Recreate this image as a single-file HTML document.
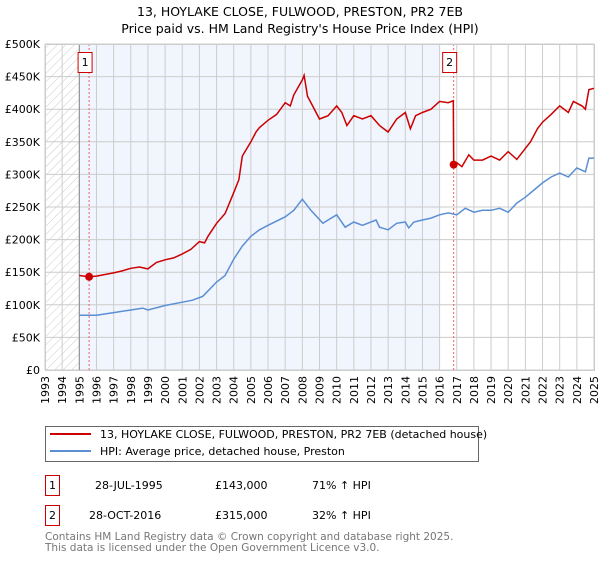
<!DOCTYPE html>
<html><head><meta charset="utf-8"><style>
body{margin:0;background:#fff;width:600px;height:560px;overflow:hidden;font-family:"DejaVu Sans","Liberation Sans",sans-serif;}
svg text{font-family:"DejaVu Sans","Liberation Sans",sans-serif;}
</style></head><body>
<svg id="chart" width="600" height="560" xmlns="http://www.w3.org/2000/svg">
<defs><pattern id="hatch" width="6" height="6" patternUnits="userSpaceOnUse" patternTransform="rotate(45)"><line x1="0" y1="0" x2="0" y2="6" stroke="#ccc" stroke-width="1"/></pattern></defs>
<text x="300" y="16" text-anchor="middle" font-size="12.5">13, HOYLAKE CLOSE, FULWOOD, PRESTON, PR2 7EB</text>
<text x="300" y="33" text-anchor="middle" font-size="12.5">Price paid vs. HM Land Registry's House Price Index (HPI)</text>
<g id="plot"></g>
<g>
<rect x="45.5" y="426.5" width="433" height="35" fill="#fff" stroke="#666"/>
<line x1="50" y1="434" x2="91" y2="434" stroke="#cc0000" stroke-width="2"/>
<text x="100" y="438" font-size="11">13, HOYLAKE CLOSE, FULWOOD, PRESTON, PR2 7EB (detached house)</text>
<line x1="50" y1="451" x2="91" y2="451" stroke="#5b8fd4" stroke-width="2"/>
<text x="100" y="455" font-size="11">HPI: Average price, detached house, Preston</text>
</g>
<g font-size="11">
<rect x="45.5" y="475.5" width="14" height="20" fill="#fff" stroke="#cc0000"/><text x="52.5" y="489" text-anchor="middle">1</text>
<text x="95" y="489">28-JUL-1995</text><text x="215" y="489">£143,000</text><text x="312" y="489">71% ↑ HPI</text>
<rect x="45.5" y="505.5" width="14" height="20" fill="#fff" stroke="#cc0000"/><text x="52.5" y="519" text-anchor="middle">2</text>
<text x="89" y="519">28-OCT-2016</text><text x="215" y="519">£315,000</text><text x="312" y="519">32% ↑ HPI</text>
</g>
<text x="45" y="540" font-size="10.5" fill="#777">Contains HM Land Registry data © Crown copyright and database right 2025.</text>
<text x="45" y="551" font-size="10.5" fill="#777">This data is licensed under the Open Government Licence v3.0.</text>
</svg>
<script>
const hpiYears=[1995,1996,1997,1998,1998.7,1999,2000,2001,2001.6,2002.2,2003,2003.5,2004,2004.5,2005,2005.5,2006,2007,2007.5,2008,2008.5,2009.2,2009.5,2010,2010.5,2011,2011.5,2012.3,2012.5,2013,2013.5,2014,2014.2,2014.5,2015,2015.5,2016,2016.5,2017,2017.5,2018,2018.5,2019,2019.5,2020,2020.5,2021,2021.5,2022,2022.5,2023,2023.5,2024,2024.5,2024.7,2025];
const hpiValues=[84,84,88,92,95,92,99,104,107,113,135,145,170,190,205,215,222,235,245,262,245,225,230,238,219,227,222,230,219,215,225,227,218,227,230,233,238,241,238,248,242,245,245,248,242,256,265,276,287,296,302,296,310,304,325,325];
const ppYears=[1995,1995.57,1996,1997,1997.5,1998,1998.5,1999,1999.5,2000,2000.5,2001,2001.5,2002,2002.3,2002.5,2003,2003.5,2004,2004.3,2004.5,2005,2005.3,2005.5,2006,2006.5,2007,2007.3,2007.5,2008,2008.1,2008.3,2008.6,2009,2009.5,2010,2010.3,2010.6,2011,2011.5,2012,2012.5,2013,2013.5,2014,2014.3,2014.6,2015,2015.5,2016,2016.5,2016.8,2016.82,2017,2017.3,2017.7,2018,2018.5,2019,2019.5,2020,2020.5,2021,2021.3,2021.7,2022,2022.5,2023,2023.5,2023.8,2024.3,2024.5,2024.7,2025];
const ppValues=[145,143,144,149,152,156,158,155,165,169,172,178,185,197,195,205,225,240,272,292,328,350,365,372,383,392,410,405,422,445,452,420,405,385,390,405,395,375,390,385,390,375,365,385,395,370,390,395,400,412,410,413,315,318,312,330,322,322,328,322,335,323,340,350,370,380,392,405,395,412,405,400,430,432];
const sales=[{n:"1",year:1995.57,value:143},{n:"2",year:2016.82,value:315}];
const yTicks=[0,50,100,150,200,250,300,350,400,450,500];
const yLabels=["£0","£50K","£100K","£150K","£200K","£250K","£300K","£350K","£400K","£450K","£500K"];
const xTicks=[];for(let y=1993;y<=2025;y++)xTicks.push(y);

const X0=45,X1=594,Y0=370,Y1=44;
const xs=y=>X0+(y-1993)/32*(X1-X0);
const ys=v=>Y0-v/500*(Y0-Y1);
const NS="http://www.w3.org/2000/svg";
const g=document.getElementById('plot');
function mk(t,a){const e=document.createElementNS(NS,t);for(const k in a)e.setAttribute(k,a[k]);g.appendChild(e);return e;}
let e;
e=mk('rect',{x:xs(1995),y:Y1,width:xs(2016)-xs(1995),height:Y0-Y1,fill:'#f1f5fd'});


e=mk('rect',{x:X0,y:Y1,width:xs(1995)-X0,height:Y0-Y1,fill:'url(#hatch)'});


xTicks.forEach(t=>{e=mk('line',{x1:xs(t),x2:xs(t),y1:Y1,y2:Y0,stroke:'#ccc','stroke-width':1});


e=mk('text',{x:0,y:0,transform:`translate(${xs(t)+4},${Y0+6}) rotate(-90)`,'text-anchor':'end','font-size':11});
e.textContent=t;

});
yTicks.forEach((t,i)=>{e=mk('line',{x1:X0,x2:X1,y1:ys(t),y2:ys(t),stroke:'#ccc','stroke-width':1});


e=mk('text',{x:X0-5,y:ys(t)+4,'text-anchor':'end','font-size':11});
e.textContent=yLabels[i];

});
e=mk('line',{x1:xs(1995),x2:xs(1995),y1:Y1,y2:Y0,stroke:'#888'});


sales.forEach(s=>{e=mk('line',{x1:xs(s.year),x2:xs(s.year),y1:Y1,y2:Y0,stroke:'#f06060','stroke-dasharray':'2,2'});

});
function path(xa,va,c,name){e=mk('path',{d:xa.map((x,i)=>(i?'L':'M')+xs(x).toFixed(1)+','+ys(va[i]).toFixed(1)).join(''),fill:'none',stroke:c,'stroke-width':1.5});

}
path(hpiYears,hpiValues,'#5b8fd4','hpi-line');
path(ppYears,ppValues,'#cc0000','price-paid-line');
sales.forEach(s=>{e=mk('circle',{cx:xs(s.year),cy:ys(s.value),r:4,fill:'#cc0000'});


const bx=xs(s.year)-10-(s.n==="2"?3:-0);
e=mk('rect',{x:xs(s.year)-(s.n==="1"?10:10),y:52.5,width:14,height:20,fill:'#fff',stroke:'#cc0000'});
e.setAttribute('x',xs(s.year)-(s.n==="1"?11:11));


e=mk('text',{x:xs(s.year)-4,y:66,'text-anchor':'middle','font-size':11});
e.textContent=s.n;

});
e=mk('rect',{x:X0+.5,y:Y1+.5,width:X1-X0,height:Y0-Y1,fill:'none',stroke:'#ccc'});


</script>
</body></html>
